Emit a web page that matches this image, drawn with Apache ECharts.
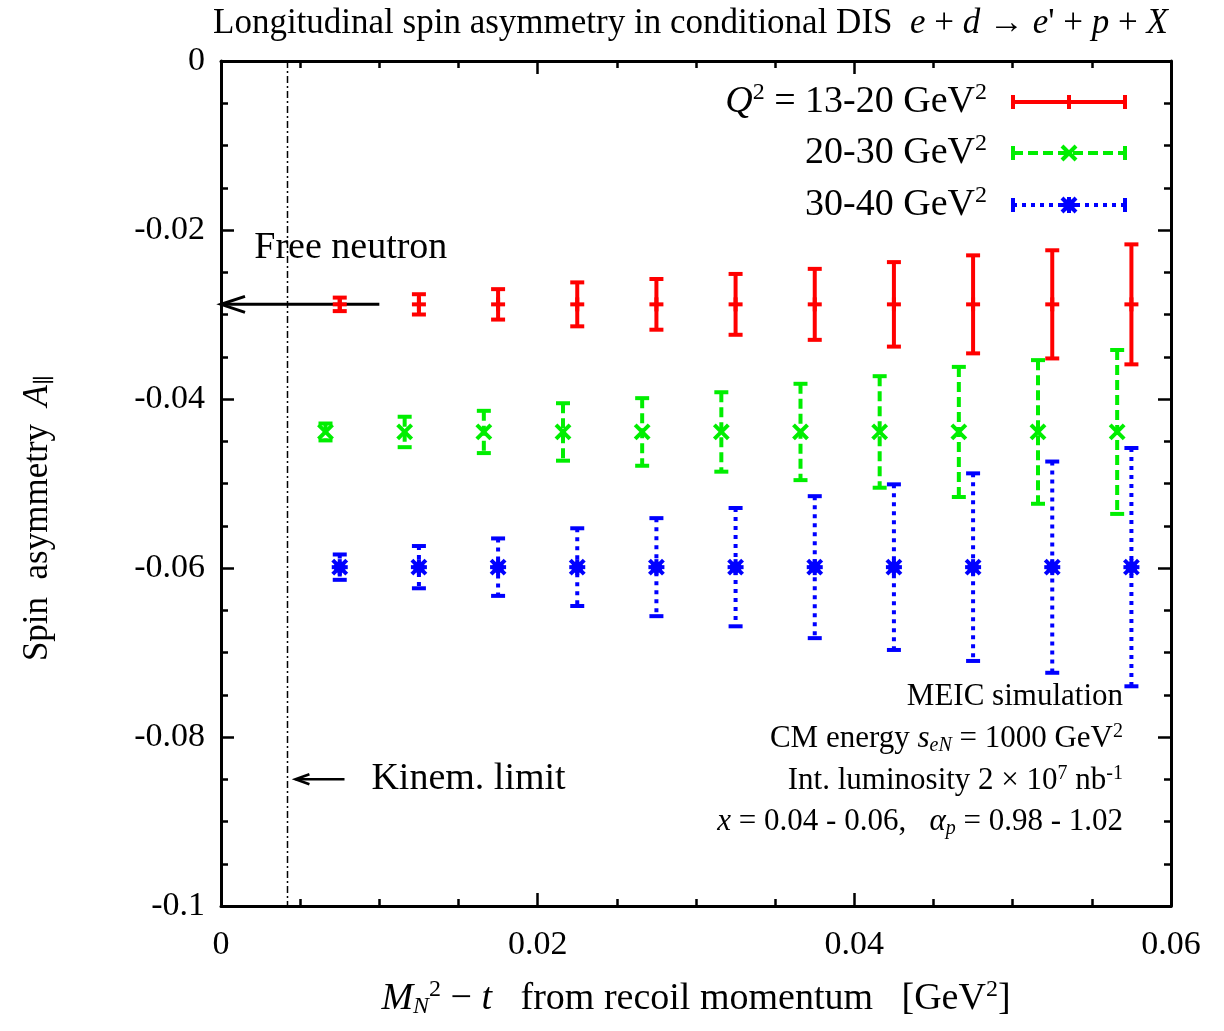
<!DOCTYPE html>
<html>
<head>
<meta charset="utf-8">
<script src="https://cdn.jsdelivr.net/npm/echarts@6/dist/echarts.min.js"></script>
<style>
  html, body { margin: 0; padding: 0; background: #fff; }
  #chart { width: 1224px; height: 1031px; }
</style>
</head>
<body>
<div id="chart"></div>
<script>
(function () {
    'use strict';

    var FONT = '"Liberation Serif", "DejaVu Serif", serif';

    // data
    var xTicks = [0, 0.02, 0.04, 0.06];
    var yTicks = [0, -0.02, -0.04, -0.06, -0.08, -0.1];

    var redX = [0.0075, 0.0125, 0.0175, 0.0225, 0.0275, 0.0325, 0.0375, 0.0425, 0.0475, 0.0525, 0.0575];
    var redY = [-0.0288, -0.0288, -0.0288, -0.0288, -0.0288, -0.0288, -0.0288, -0.0288, -0.0288, -0.0288, -0.0288];
    var redErr = [0.0008, 0.0012, 0.0018, 0.0026, 0.0030, 0.0036, 0.0042, 0.0050, 0.0058, 0.0064, 0.0071];

    var greenX = [0.0066, 0.0116, 0.0166, 0.0216, 0.0266, 0.0316, 0.0366, 0.0416, 0.0466, 0.0516, 0.0566];
    var greenY = [-0.0439, -0.0439, -0.0439, -0.0439, -0.0439, -0.0439, -0.0439, -0.0439, -0.0439, -0.0439, -0.0439];
    var greenErr = [0.0010, 0.0018, 0.0025, 0.0034, 0.0040, 0.0047, 0.0057, 0.0066, 0.0077, 0.0085, 0.0097];

    var blueX = [0.0075, 0.0125, 0.0175, 0.0225, 0.0275, 0.0325, 0.0375, 0.0425, 0.0475, 0.0525, 0.0575];
    var blueY = [-0.0599, -0.0599, -0.0599, -0.0599, -0.0599, -0.0599, -0.0599, -0.0599, -0.0599, -0.0599, -0.0599];
    var blueErr = [0.0015, 0.0025, 0.0034, 0.0046, 0.0058, 0.0070, 0.0084, 0.0098, 0.0111, 0.0125, 0.0141];

    var kinemLimit = 0.0042;
    var freeNeutronArrow = [[0.0100, -0.0288], [0, -0.0288]];
    var kinemArrow = [[0.0078, -0.0850], [0.0047, -0.0850]];
    var freeNeutronLabel = [0.0021, -0.0221];
    var kinemLabel = [0.0095, -0.0850];

    var seriesNames = ['13-20', '20-30', '30-40'];
    var colors = ['#ff0000', '#00ee00', '#0000ff'];
    var dashes = [null, [10, 5], [4, 5]];
    var markers = ['plus', 'cross', 'star'];

    function zip(xs, ys, es) {
        return xs.map(function (x, i) { return [x, ys[i], es[i]]; });
    }

    function markerShapes(kind, cx, cy, color) {
        var s = 7;
        var st = { stroke: color, lineWidth: 4, fill: null };
        if (kind === 'plus') {
            return [
                { type: 'line', shape: { x1: cx - s, y1: cy, x2: cx + s, y2: cy }, style: st },
                { type: 'line', shape: { x1: cx, y1: cy - s, x2: cx, y2: cy + s }, style: st }
            ];
        }
        if (kind === 'cross') {
            return [
                { type: 'line', shape: { x1: cx - s, y1: cy - s, x2: cx + s, y2: cy + s }, style: st },
                { type: 'line', shape: { x1: cx - s, y1: cy + s, x2: cx + s, y2: cy - s }, style: st }
            ];
        }
        return [
            { type: 'circle', shape: { cx: cx, cy: cy, r: 6 }, style: { fill: color } },
            { type: 'line', shape: { x1: cx - s - 1, y1: cy, x2: cx + s + 1, y2: cy }, style: st },
            { type: 'line', shape: { x1: cx, y1: cy - s - 1, x2: cx, y2: cy + s + 1 }, style: st },
            { type: 'line', shape: { x1: cx - s, y1: cy - s, x2: cx + s, y2: cy + s }, style: st },
            { type: 'line', shape: { x1: cx - s, y1: cy + s, x2: cx + s, y2: cy - s }, style: st }
        ];
    }

    function errorBarRenderer(idx) {
        return function (params, api) {
            var x = api.value(0), y = api.value(1), e = api.value(2);
            var c = api.coord([x, y]);
            var hi = api.coord([x, y + e]);
            var lo = api.coord([x, y - e]);
            var w = 7;
            var lineSt = { stroke: colors[idx], lineWidth: 4, lineDash: dashes[idx], fill: null };
            var capSt = { stroke: colors[idx], lineWidth: 4, fill: null };
            var children = [
                { type: 'line', shape: { x1: c[0], y1: hi[1], x2: c[0], y2: lo[1] }, style: lineSt },
                { type: 'line', shape: { x1: c[0] - w, y1: hi[1], x2: c[0] + w, y2: hi[1] }, style: capSt },
                { type: 'line', shape: { x1: c[0] - w, y1: lo[1], x2: c[0] + w, y2: lo[1] }, style: capSt }
            ];
            return { type: 'group', children: children.concat(markerShapes(markers[idx], c[0], c[1], colors[idx])) };
        };
    }

    function arrowShapes(from, to, len, half, width) {
        var dx = to[0] - from[0], dy = to[1] - from[1];
        var d = Math.sqrt(dx * dx + dy * dy) || 1;
        var ux = dx / d, uy = dy / d;
        var bx = to[0] - ux * len, by = to[1] - uy * len;
        var st = { stroke: '#000', lineWidth: width, fill: null };
        return [
            { type: 'line', shape: { x1: from[0], y1: from[1], x2: to[0], y2: to[1] }, style: st },
            { type: 'polyline', shape: { points: [[bx - uy * half, by + ux * half], to, [bx + uy * half, by - ux * half]] }, style: st }
        ];
    }

    var rich = {
        it: { fontFamily: FONT, fontStyle: 'italic', fontSize: 38, color: '#000' },
        sup: { fontFamily: FONT, fontSize: 24, padding: [0, 0, 18, 0], color: '#000' },
        sub: { fontFamily: FONT, fontSize: 24, fontStyle: 'italic', padding: [16, 0, 0, 0], color: '#000' }
    };
    var richSmall = {
        it: { fontFamily: FONT, fontStyle: 'italic', fontSize: 31, color: '#000' },
        sup: { fontFamily: FONT, fontSize: 20, padding: [0, 0, 15, 0], color: '#000' },
        sub: { fontFamily: FONT, fontSize: 20, fontStyle: 'italic', padding: [14, 0, 0, 0], color: '#000' }
    };

    var notesSeries = {
        type: 'custom',
        name: 'notes',
        silent: true,
        data: [[0, 0]],
        encode: { x: 0, y: 1 },
        clip: false,
        z: 1,
        renderItem: function (params, api) {
            var top = api.coord([kinemLimit, 0]);
            var bot = api.coord([kinemLimit, -0.1]);
            var fn = api.coord(freeNeutronLabel);
            var kl = api.coord(kinemLabel);
            var children = [
                { type: 'line', shape: { x1: top[0], y1: top[1], x2: bot[0], y2: bot[1] },
                  style: { stroke: '#000', lineWidth: 1.5, lineDash: [7, 3, 2, 3] } },
                { type: 'text', x: fn[0], y: fn[1],
                  style: { text: 'Free neutron', font: '38px ' + FONT, fill: '#000', align: 'left', verticalAlign: 'middle' } },
                { type: 'text', x: kl[0], y: kl[1],
                  style: { text: 'Kinem. limit', font: '38px ' + FONT, fill: '#000', align: 'left', verticalAlign: 'middle' } }
            ];
            children = children.concat(arrowShapes(api.coord(freeNeutronArrow[0]), api.coord(freeNeutronArrow[1]), 24, 8, 3));
            children = children.concat(arrowShapes(api.coord(kinemArrow[0]), api.coord(kinemArrow[1]), 14, 5, 2.5));
            return { type: 'group', children: children };
        }
    };

    var series = [notesSeries];
    [zip(redX, redY, redErr), zip(greenX, greenY, greenErr), zip(blueX, blueY, blueErr)].forEach(function (d, i) {
        series.push({
            type: 'custom',
            name: seriesNames[i],
            data: d,
            encode: { x: 0, y: 1 },
            clip: false,
            z: 3,
            renderItem: errorBarRenderer(i)
        });
    });

    // legend samples (layout only)
    function legendSample(i, y) {
        var x1 = 1013, x2 = 1125, xm = 1069;
        var st = { stroke: colors[i], lineWidth: 4, lineDash: dashes[i], fill: null };
        var cap = { stroke: colors[i], lineWidth: 4, fill: null };
        var shapes = [
            { type: 'line', shape: { x1: x1, y1: y, x2: x2, y2: y }, style: st },
            { type: 'line', shape: { x1: x1, y1: y - 7, x2: x1, y2: y + 7 }, style: cap },
            { type: 'line', shape: { x1: x2, y1: y - 7, x2: x2, y2: y + 7 }, style: cap }
        ];
        return shapes.concat(markerShapes(markers[i], xm, y, colors[i]));
    }

    var legendTexts = [
        '{it|Q}{sup|2} = 13-20 GeV{sup|2}',
        '20-30 GeV{sup|2}',
        '30-40 GeV{sup|2}'
    ];
    var legendY = [102, 153, 205];

    var infoLines = [
        'MEIC simulation',
        'CM energy {it|s}{sub|eN} = 1000 GeV{sup|2}',
        'Int. luminosity 2 × 10{sup|7} nb{sup|-1}',
        '{it|x} = 0.04 - 0.06,   {it|α}{sub|p} = 0.98 - 1.02'
    ];
    var infoY = [697, 739, 781, 822];

    var graphics = [];
    legendTexts.forEach(function (t, i) {
        graphics.push({
            type: 'text', x: 987, y: legendY[i],
            style: { text: t, font: '38px ' + FONT, fill: '#000', align: 'right', verticalAlign: 'middle', rich: rich }
        });
        graphics.push({ type: 'group', children: legendSample(i, legendY[i]) });
    });
    infoLines.forEach(function (t, i) {
        graphics.push({
            type: 'text', x: 1123, y: infoY[i],
            style: { text: t, font: '31px ' + FONT, fill: '#000', align: 'right', verticalAlign: 'middle', rich: richSmall }
        });
    });
    graphics.push({
        type: 'text', x: 38, y: 518, rotation: Math.PI / 2,
        style: { text: 'Spin  asymmetry  {it|A}{sub|\u2225}', font: '35px ' + FONT, fill: '#000',
                 align: 'center', verticalAlign: 'middle',
                 rich: { it: { fontFamily: FONT, fontStyle: 'italic', fontSize: 35 },
                         sub: { fontFamily: FONT, fontSize: 22, padding: [14, 0, 0, 0], color: '#999' } } }
    });

    var axisLine = { show: true, onZero: false, lineStyle: { color: '#000', width: 3 } };
    var axisTick = { show: true, inside: true, length: 13, lineStyle: { color: '#000', width: 2.5 } };
    var minorTick = { show: true, splitNumber: 4, length: 7, lineStyle: { color: '#000', width: 2.5 } };
    var labelStyle = { fontFamily: FONT, fontSize: 34, color: '#000' };

    var option = {
        backgroundColor: '#fff',
        animation: false,
        title: {
            text: 'Longitudinal spin asymmetry in conditional DIS  {i|e} + {i|d} \u2192 {i|e}\' + {i|p} + {i|X}',
            left: 208, top: 1,
            textStyle: {
                fontFamily: FONT, fontSize: 35, fontWeight: 'normal', color: '#000',
                rich: { i: { fontFamily: FONT, fontSize: 35, fontStyle: 'italic', color: '#000' } }
            }
        },
        grid: { left: 221, right: 53, top: 61, bottom: 125, containLabel: false },
        xAxis: [{
            type: 'value', min: 0, max: 0.06, interval: 0.02, position: 'bottom',
            axisLine: axisLine, axisTick: axisTick, minorTick: minorTick,
            splitLine: { show: false },
            axisLabel: Object.assign({ margin: 22, formatter: function (v) { return xTicks.indexOf(+v.toFixed(4)) >= 0 ? String(+v.toFixed(4)) : ''; } }, labelStyle),
            name: '{it|M}{sub|N}{sup|2} \u2212 {it|t}   from recoil momentum   [GeV{sup|2}]',
            nameLocation: 'middle', nameGap: 72,
            nameTextStyle: { fontFamily: FONT, fontSize: 38, color: '#000', rich: rich }
        }, {
            type: 'value', min: 0, max: 0.06, interval: 0.02, position: 'top',
            axisLine: axisLine, axisTick: axisTick, minorTick: minorTick,
            splitLine: { show: false }, axisLabel: { show: false }
        }],
        yAxis: [{
            type: 'value', min: -0.1, max: 0, interval: 0.02, position: 'left',
            axisLine: axisLine, axisTick: axisTick, minorTick: minorTick,
            splitLine: { show: false },
            axisLabel: Object.assign({ margin: 16, formatter: function (v) { return yTicks.indexOf(+v.toFixed(4)) >= 0 ? String(+v.toFixed(4)) : ''; } }, labelStyle)
        }, {
            type: 'value', min: -0.1, max: 0, interval: 0.02, position: 'right',
            axisLine: axisLine, axisTick: axisTick, minorTick: minorTick,
            splitLine: { show: false }, axisLabel: { show: false }
        }],
        graphic: graphics,
        series: series
    };

    var chart = echarts.init(document.getElementById('chart'), null, { renderer: 'canvas' });
    chart.setOption(option);
})();
</script>
</body>
</html>
